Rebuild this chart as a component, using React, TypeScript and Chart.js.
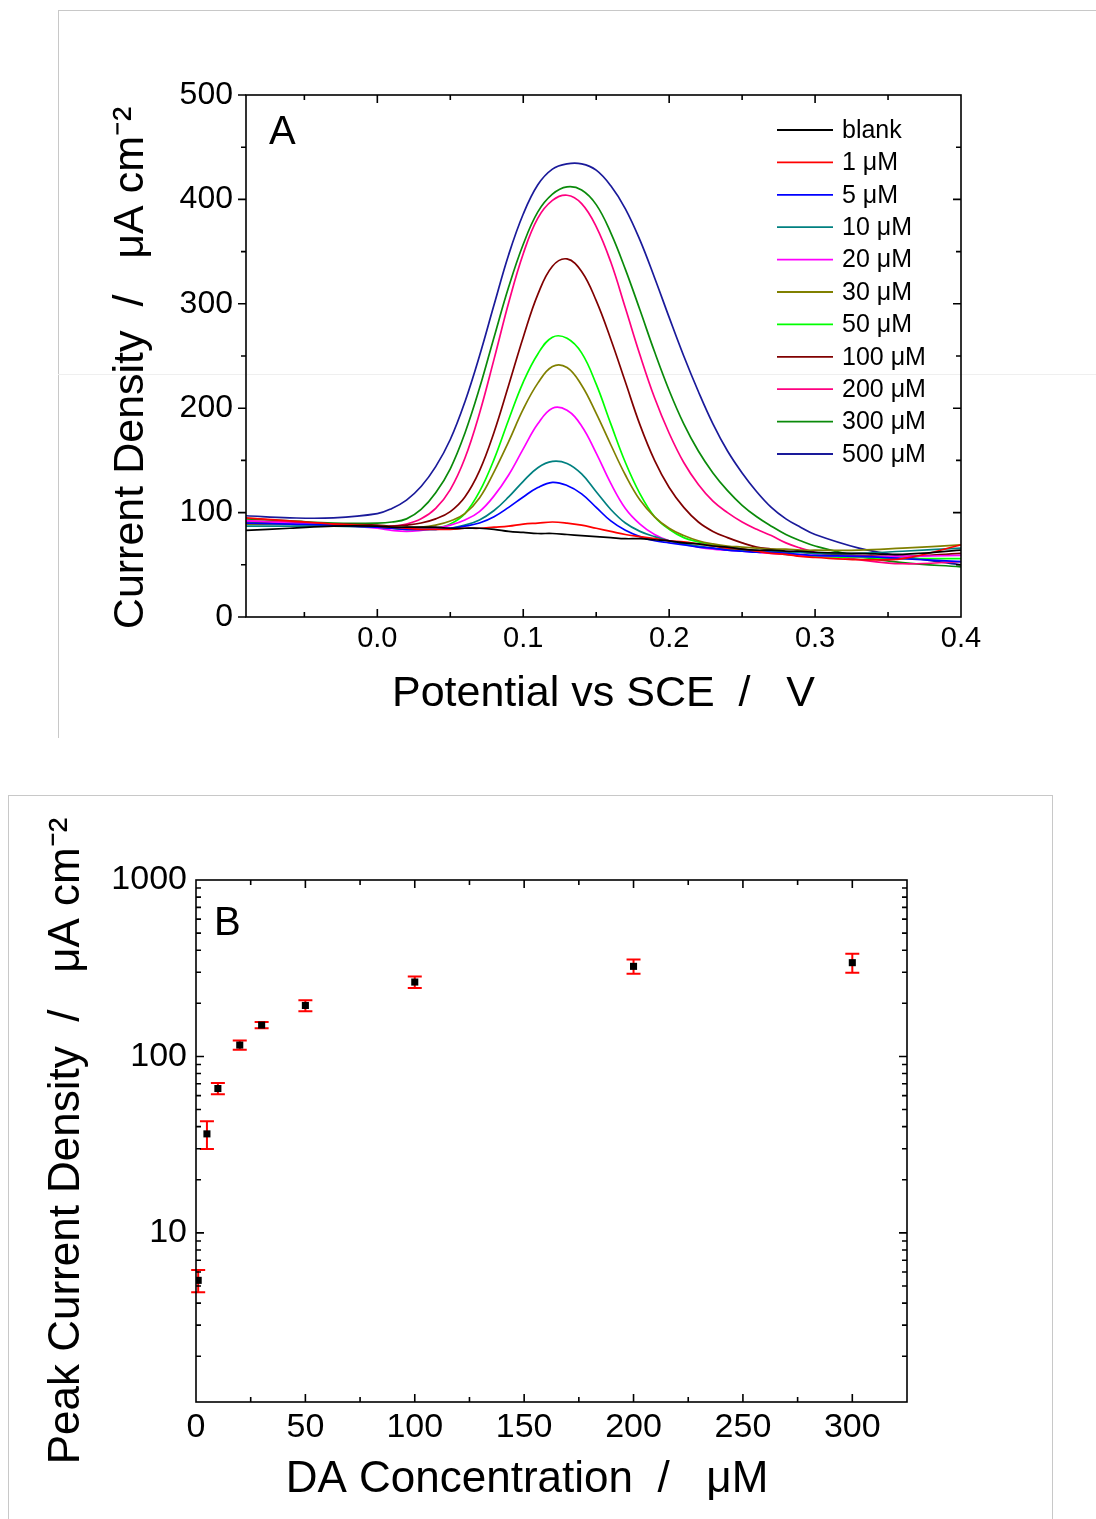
import React, { useEffect, useRef } from "react";
import { Chart, registerables } from "chart.js";

Chart.register(...registerables);

const FONT = "'Liberation Sans', Arial, Helvetica, sans-serif";

// ---------- Panel A data ----------
const potential = [-0.09, -0.06, -0.03, 0.0, 0.01, 0.02, 0.03, 0.04, 0.05, 0.06, 0.07, 0.08, 0.09, 0.1, 0.11, 0.12, 0.13, 0.14, 0.15, 0.16, 0.17, 0.18, 0.19, 0.2, 0.21, 0.22, 0.23, 0.24, 0.25, 0.26, 0.27, 0.28, 0.29, 0.3, 0.33, 0.36, 0.4];

const seriesLabels = ["blank", "1 μM", "5 μM", "10 μM", "20 μM", "30 μM", "50 μM", "100 μM", "200 μM", "300 μM", "500 μM"];
const seriesColors = ["#000000", "#ff0000", "#0000ff", "#008080", "#ff00ff", "#808000", "#00ff00", "#800000", "#ff0080", "#0a8a0a", "#1a1a9a"];

const blank = [83, 85, 87, 87, 86, 86, 86, 86, 85, 85, 85, 84, 82, 81, 80, 80, 79, 78, 77, 76, 75, 75, 74, 73, 71, 70, 68, 67, 65, 64, 64, 63, 63, 62, 61, 60, 64];
const uM1 = [95, 92, 89, 87, 86, 85, 84, 84, 84, 85, 85, 86, 87, 89, 90, 91, 90, 88, 85, 82, 79, 77, 75, 73, 72, 70, 68, 66, 65, 63, 61, 60, 58, 57, 55, 56, 69];
const uM5 = [90, 89, 88, 86, 85, 84, 84, 84, 85, 87, 90, 96, 105, 115, 124, 129, 126, 118, 105, 92, 83, 77, 73, 71, 69, 67, 66, 64, 63, 62, 62, 61, 60, 59, 58, 56, 53];
const uM10 = [87, 87, 87, 86, 85, 84, 84, 84, 85, 88, 93, 102, 115, 130, 143, 149, 147, 137, 120, 103, 90, 82, 77, 73, 70, 68, 66, 65, 64, 63, 63, 62, 62, 61, 61, 63, 66];
const uM20 = [92, 90, 88, 85, 83, 82, 83, 85, 88, 93, 101, 116, 136, 161, 185, 200, 198, 183, 157, 128, 104, 89, 79, 73, 70, 67, 65, 64, 63, 62, 61, 60, 59, 59, 58, 58, 59];
const uM30 = [89, 89, 88, 87, 86, 86, 86, 88, 92, 99, 114, 139, 168, 199, 224, 240, 239, 222, 195, 165, 136, 112, 96, 85, 78, 73, 70, 68, 67, 66, 65, 65, 64, 64, 64, 66, 69];
const uM50 = [90, 89, 88, 86, 85, 84, 84, 85, 89, 99, 120, 151, 189, 225, 252, 268, 267, 253, 223, 185, 148, 118, 96, 84, 76, 72, 69, 67, 65, 63, 62, 60, 59, 58, 57, 56, 56];
const uM100 = [91, 90, 89, 88, 87, 88, 90, 94, 101, 115, 140, 177, 222, 268, 309, 336, 343, 331, 303, 266, 225, 184, 150, 124, 105, 91, 82, 76, 71, 67, 65, 63, 62, 61, 59, 58, 61];
const uM200 = [92, 91, 89, 87, 87, 89, 94, 104, 122, 152, 195, 247, 301, 348, 382, 399, 404, 396, 374, 340, 296, 251, 210, 176, 148, 127, 111, 100, 91, 84, 78, 71, 66, 62, 55, 51, 53];
const uM300 = [94, 92, 90, 90, 91, 94, 103, 119, 142, 176, 219, 268, 316, 357, 388, 405, 412, 409, 395, 368, 333, 294, 254, 217, 185, 159, 138, 121, 107, 96, 87, 79, 73, 68, 58, 52, 48];
const uM500 = [97, 95, 95, 99, 104, 112, 125, 144, 170, 206, 250, 299, 347, 386, 414, 429, 434, 434, 428, 413, 391, 361, 325, 287, 250, 216, 185, 159, 138, 120, 105, 94, 86, 79, 66, 58, 50];

const seriesValues = [blank, uM1, uM5, uM10, uM20, uM30, uM50, uM100, uM200, uM300, uM500];

const potentialTicks = [0.0, 0.1, 0.2, 0.3, 0.4];
const potentialMinorTicks = [-0.05, 0.05, 0.15, 0.25, 0.35];
const currentTicks = [0, 100, 200, 300, 400, 500];
const currentMinorTicks = [50, 150, 250, 350, 450];

// ---------- Panel B data ----------
const concentration = [1, 5, 10, 20, 30, 50, 100, 200, 300];
const peakCurrent = [5.38, 36.4, 65.8, 116, 150.6, 194.5, 264, 324, 340];
const peakError = [0.77, 6.5, 4.8, 7, 6, 14, 20, 30, 42];

const concTicks = [0, 50, 100, 150, 200, 250, 300];
const concMinorTicks = [25, 75, 125, 175, 225, 275];
const peakTicks = [10, 100, 1000];
const peakMinorTicks = [2, 3, 4, 5, 6, 7, 8, 9, 20, 30, 40, 50, 60, 70, 80, 90, 200, 300, 400, 500, 600, 700, 800, 900];

type FrameCfg = {
  xMajor: number[];
  xMinor: number[];
  yMajor: number[];
  yMinor: number[];
  leftOutward: boolean;
  majorLen: number;
  minorLen: number;
};

function makeFramePlugin(cfg: FrameCfg) {
  return {
    id: "frameTicks",
    afterDatasetsDraw(chart: any) {
      const { ctx, chartArea } = chart;
      const { left, right, top, bottom } = chartArea;
      const xs = chart.scales.x;
      const ys = chart.scales.y;
      ctx.save();
      ctx.strokeStyle = "#000";
      ctx.lineWidth = 1.6;
      ctx.beginPath();
      const tickX = (v: number, len: number) => {
        const p = xs.getPixelForValue(v);
        if (p <= left + 1 || p >= right - 1) return;
        ctx.moveTo(p, bottom);
        ctx.lineTo(p, bottom - len);
        ctx.moveTo(p, top);
        ctx.lineTo(p, top + len);
      };
      const tickY = (v: number, len: number) => {
        const p = ys.getPixelForValue(v);
        if (cfg.leftOutward) {
          if (p >= top - 1 && p <= bottom + 1) {
            ctx.moveTo(left, p);
            ctx.lineTo(left - len, p);
          }
        } else if (p > top + 1 && p < bottom - 1) {
          ctx.moveTo(left, p);
          ctx.lineTo(left + len, p);
        }
        if (p > top + 1 && p < bottom - 1) {
          ctx.moveTo(right, p);
          ctx.lineTo(right - len, p);
        }
      };
      cfg.xMajor.forEach((v) => tickX(v, cfg.majorLen));
      cfg.xMinor.forEach((v) => tickX(v, cfg.minorLen));
      cfg.yMajor.forEach((v) => tickY(v, cfg.majorLen));
      cfg.yMinor.forEach((v) => tickY(v, cfg.minorLen));
      ctx.stroke();
      ctx.strokeRect(left, top, right - left, bottom - top);
      ctx.restore();
    },
  };
}

const legendPluginA = {
  id: "insideLegendA",
  afterDraw(chart: any) {
    const { ctx, chartArea } = chart;
    const { left, top, right } = chartArea;
    ctx.save();
    ctx.fillStyle = "#000";
    ctx.textBaseline = "middle";
    ctx.textAlign = "left";
    ctx.font = `40px ${FONT}`;
    ctx.fillText("A", left + 23, top + 38);
    ctx.font = `25px ${FONT}`;
    chart.data.datasets.forEach((ds: any, i: number) => {
      const y = top + 35 + i * 32.4;
      ctx.strokeStyle = ds.borderColor;
      ctx.lineWidth = 1.8;
      ctx.beginPath();
      ctx.moveTo(right - 184, y);
      ctx.lineTo(right - 128, y);
      ctx.stroke();
      ctx.fillStyle = "#000";
      ctx.fillText(ds.label, right - 119, y + 1);
    });
    ctx.restore();
  },
};

const errorBarPluginB = {
  id: "errorBarsB",
  beforeDatasetsDraw(chart: any) {
    const { ctx } = chart;
    const xs = chart.scales.x;
    const ys = chart.scales.y;
    ctx.save();
    ctx.strokeStyle = "#ff0000";
    ctx.lineWidth = 2;
    concentration.forEach((c, i) => {
      const px = xs.getPixelForValue(c);
      const yTop = ys.getPixelForValue(peakCurrent[i] + peakError[i]);
      const yBot = ys.getPixelForValue(peakCurrent[i] - peakError[i]);
      ctx.beginPath();
      ctx.moveTo(px, yTop);
      ctx.lineTo(px, yBot);
      ctx.moveTo(px - 7, yTop);
      ctx.lineTo(px + 7, yTop);
      ctx.moveTo(px - 7, yBot);
      ctx.lineTo(px + 7, yBot);
      ctx.stroke();
    });
    ctx.restore();
  },
  afterDraw(chart: any) {
    const { ctx, chartArea } = chart;
    ctx.save();
    ctx.fillStyle = "#000";
    ctx.textBaseline = "middle";
    ctx.textAlign = "left";
    ctx.font = `40px ${FONT}`;
    ctx.fillText("B", chartArea.left + 18, chartArea.top + 44);
    ctx.restore();
  },
};

function PanelA() {
  const ref = useRef<HTMLCanvasElement>(null);
  useEffect(() => {
    const datasets = seriesValues.map((vals, i) => ({
      label: seriesLabels[i],
      data: potential.map((p, j) => ({ x: p, y: vals[j] })),
      borderColor: seriesColors[i],
      backgroundColor: seriesColors[i],
      borderWidth: 1.7,
      pointRadius: 0,
      tension: 0.4,
      fill: false,
    }));
    const chart = new Chart(ref.current!, {
      type: "line",
      data: { datasets },
      options: {
        animation: false,
        responsive: false,
        layout: { padding: { left: 0, top: 95, right: 135, bottom: 0 } },
        plugins: { legend: { display: false }, tooltip: { enabled: false } },
        scales: {
          x: {
            type: "linear",
            min: -0.09,
            max: 0.4,
            grid: { display: false },
            border: { display: false },
            afterFit: (s: any) => {
              s.height = 123;
            },
            afterBuildTicks: (s: any) => {
              s.ticks = potentialTicks.map((v) => ({ value: v }));
            },
            ticks: {
              padding: -3,
              color: "#000",
              font: { family: FONT, size: 29 },
              callback: (v: any) => Number(v).toFixed(1),
              maxRotation: 0,
            },
            title: {
              display: true,
              text: "Potential vs SCE  /   V",
              color: "#000",
              font: { family: FONT, size: 43 },
              padding: { top: 0, bottom: 20 },
            },
          },
          y: {
            type: "linear",
            min: 0,
            max: 500,
            grid: { display: false },
            border: { display: false },
            afterFit: (s: any) => {
              s.width = 246;
            },
            afterBuildTicks: (s: any) => {
              s.ticks = currentTicks.map((v) => ({ value: v }));
            },
            ticks: {
              padding: 5,
              color: "#000",
              font: { family: FONT, size: 32 },
            },
            title: {
              display: true,
              text: "Current Density  /   μA cm⁻²  ",
              color: "#000",
              font: { family: FONT, size: 43 },
              padding: { top: 105, bottom: 0 },
            },
          },
        },
      },
      plugins: [
        makeFramePlugin({
          xMajor: potentialTicks,
          xMinor: potentialMinorTicks,
          yMajor: currentTicks,
          yMinor: currentMinorTicks,
          leftOutward: true,
          majorLen: 8,
          minorLen: 5,
        }),
        legendPluginA,
      ],
    } as any);
    return () => chart.destroy();
  }, []);
  return (
    <canvas
      ref={ref}
      width={1096}
      height={740}
      style={{ position: "absolute", left: 0, top: 0, width: 1096, height: 740 }}
    />
  );
}

function PanelB() {
  const ref = useRef<HTMLCanvasElement>(null);
  useEffect(() => {
    const chart = new Chart(ref.current!, {
      type: "scatter",
      data: {
        datasets: [
          {
            label: "Peak Current Density",
            data: concentration.map((c, i) => ({ x: c, y: peakCurrent[i] })),
            pointStyle: "rect",
            pointRadius: 5,
            backgroundColor: "#000",
            borderColor: "#000",
            borderWidth: 0,
            showLine: false,
          },
        ],
      },
      options: {
        animation: false,
        responsive: false,
        layout: { padding: { left: 0, top: 120, right: 189, bottom: 0 } },
        plugins: { legend: { display: false }, tooltip: { enabled: false } },
        scales: {
          x: {
            type: "linear",
            min: 0,
            max: 325,
            grid: { display: false },
            border: { display: false },
            afterFit: (s: any) => {
              s.height = 117;
            },
            afterBuildTicks: (s: any) => {
              s.ticks = concTicks.map((v) => ({ value: v }));
            },
            ticks: {
              padding: -3,
              color: "#000",
              font: { family: FONT, size: 34 },
              maxRotation: 0,
            },
            title: {
              display: true,
              text: "DA Concentration  /   μM    ",
              color: "#000",
              font: { family: FONT, size: 44 },
              padding: { top: 0, bottom: 13 },
            },
          },
          y: {
            type: "logarithmic",
            min: 1.1,
            max: 1000,
            grid: { display: false },
            border: { display: false },
            afterFit: (s: any) => {
              s.width = 196;
            },
            afterBuildTicks: (s: any) => {
              s.ticks = peakTicks.map((v) => ({ value: v }));
            },
            ticks: {
              padding: 1,
              color: "#000",
              font: { family: FONT, size: 34 },
              callback: (v: any) => String(v),
            },
            title: {
              display: true,
              text: "Peak Current Density  /   μA cm⁻²",
              color: "#000",
              font: { family: FONT, size: 44 },
              padding: { top: 40, bottom: 0 },
            },
          },
        },
      },
      plugins: [
        makeFramePlugin({
          xMajor: concTicks,
          xMinor: concMinorTicks,
          yMajor: peakTicks,
          yMinor: peakMinorTicks,
          leftOutward: false,
          majorLen: 8,
          minorLen: 5,
        }),
        errorBarPluginB,
      ],
    } as any);
    return () => chart.destroy();
  }, []);
  return (
    <canvas
      ref={ref}
      width={1096}
      height={759}
      style={{ position: "absolute", left: 0, top: 760, width: 1096, height: 759 }}
    />
  );
}

export default function App() {
  return (
    <div
      style={{
        position: "absolute",
        left: 0,
        top: 0,
        width: 1096,
        height: 1519,
        overflow: "hidden",
        background: "#fff",
      }}
    >
      <div
        style={{
          position: "absolute",
          left: 58,
          top: 10,
          width: 1038,
          height: 728,
          borderTop: "1px solid #c8c8c8",
          borderLeft: "1px solid #c8c8c8",
          boxSizing: "border-box",
        }}
      />
      <div
        style={{
          position: "absolute",
          left: 58,
          top: 374,
          width: 1038,
          height: 1,
          background: "#efefef",
        }}
      />
      <div
        style={{
          position: "absolute",
          left: 8,
          top: 795,
          width: 1045,
          height: 730,
          borderTop: "1px solid #c8c8c8",
          borderLeft: "1px solid #c8c8c8",
          borderRight: "1px solid #c8c8c8",
          boxSizing: "border-box",
        }}
      />
      <PanelA />
      <PanelB />
    </div>
  );
}
